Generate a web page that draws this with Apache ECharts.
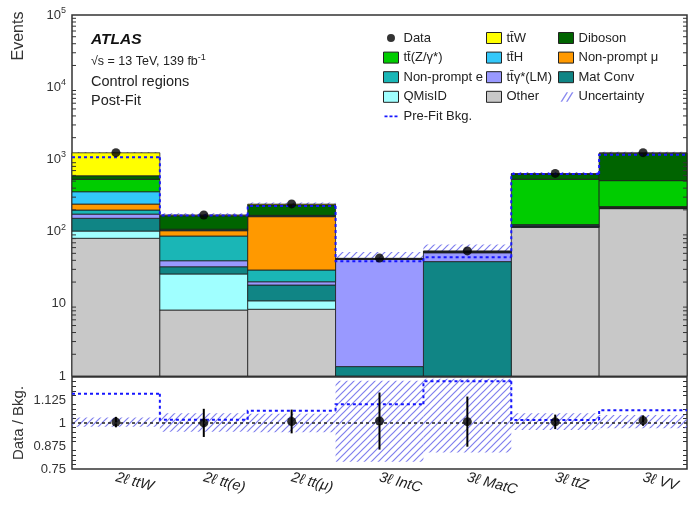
<!DOCTYPE html>
<html>
<head>
<meta charset="utf-8">
<script src="https://cdn.jsdelivr.net/npm/echarts@6/dist/echarts.min.js"></script>
<style>
  html, body { margin: 0; padding: 0; background: #fff; }
  #chart { width: 688px; height: 506px; }
</style>
</head>
<body>
<div id="chart"></div>
<script>
const categories = ['2ℓ ttW', '2ℓ tt(e)', '2ℓ tt(μ)', '3ℓ IntC', '3ℓ MatC', '3ℓ ttZ', '3ℓ VV'];

// Post-fit background yields per region (stacked bottom to top in this order)
const other       = [80.8, 8.2, 8.4, 0.3, 0.4, 114.5, 208];
const qMisID      = [21, 17.7, 2.6, 0, 0, 0.5, 1];
const matConv     = [51, 6.7, 7.2, 1.05, 38, 3, 3];
const ttGammaLM   = [22, 6.9, 2.0, 40, 12.5, 1, 2];
const nonPromptE  = [24, 47.4, 9.2, 0.3, 0.5, 1, 3];
const nonPromptMu = [42, 16, 131.6, 0.2, 0.5, 1, 3];
const ttH         = [116, 2, 3, 0.1, 0.2, 4, 2];
const ttZ         = [173, 3, 4, 0.3, 0.5, 405, 286];
const diboson     = [64, 58, 66, 0.2, 0.8, 98, 712];
const ttW         = [640, 4, 6, 0.1, 0.2, 8, 4];

// Observed events, their uncertainty, pre-fit total and relative post-fit uncertainty
const dataCounts = [1240, 170, 242, 43, 54, 640, 1240];
const dataErr    = [35, 13, 15.5, 6.6, 7.3, 25, 35];
const prefitBkg  = [1070, 167, 227, 39, 44, 630, 1160];
const uncDown    = [0.98, 0.953, 0.95, 0.79, 0.84, 0.962, 0.971];
const uncUp      = [1.03, 1.053, 1.05, 1.23, 1.24, 1.053, 1.043];

const TBAR = 't\u0304';
const layers = [
  { name: 'Other', values: other },
  { name: 'QMisID', values: qMisID },
  { name: 'Mat Conv', values: matConv },
  { name: 't' + TBAR + 'γ*(LM)', values: ttGammaLM },
  { name: 'Non-prompt e', values: nonPromptE },
  { name: 'Non-prompt μ', values: nonPromptMu },
  { name: 't' + TBAR + 'H', values: ttH },
  { name: 't' + TBAR + '(Z/γ*)', values: ttZ },
  { name: 'Diboson', values: diboson },
  { name: 't' + TBAR + 'W', values: ttW }
];
const layerColors = {
  'Other': '#c8c8c8',
  'QMisID': '#a0ffff',
  'Mat Conv': '#108585',
  ['t' + TBAR + 'γ*(LM)']: '#9999ff',
  'Non-prompt e': '#1ab6b6',
  'Non-prompt μ': '#ff9900',
  ['t' + TBAR + 'H']: '#33c8fa',
  ['t' + TBAR + '(Z/γ*)']: '#00cc00',
  'Diboson': '#006400',
  ['t' + TBAR + 'W']: '#ffff00'
};

const FONT = "'Liberation Sans', Arial, Helvetica, sans-serif";
const Y_MIN = 1, Y_MAX = 1e5;
const PREFIT_COLOR = '#1616ff';
const FRAME = '#333';

// diagonal hatch used for the systematic uncertainty band
function hatchPattern() {
  const c = document.createElement('canvas');
  c.width = 7; c.height = 7;
  const g = c.getContext('2d');
  g.strokeStyle = 'rgba(105,105,235,0.85)';
  g.lineWidth = 1.2;
  g.beginPath();
  g.moveTo(-1, 8); g.lineTo(8, -1);
  g.moveTo(-1, 1); g.lineTo(1, -1);
  g.moveTo(6, 8); g.lineTo(8, 6);
  g.stroke();
  return { image: c, repeat: 'repeat' };
}
const HATCH = hatchPattern();

// running sums for the stack
const totals = categories.map(() => 0);
const stackSeries = layers.map((layer) => {
  const items = layer.values.map((v, i) => {
    const lo = totals[i];
    totals[i] += v;
    return [i, lo, totals[i]];
  });
  return {
    type: 'custom', name: layer.name, xAxisIndex: 0, yAxisIndex: 0, z: 2,
    itemStyle: { color: layerColors[layer.name] },
    encode: { x: 0, y: 2 },
    renderItem: bandRender(Y_MIN, api => ({ fill: api.visual('color'), stroke: '#1e1e1e', lineWidth: 0.8 })),
    data: items
  };
});

function bandRender(clampMin, styleFn) {
  return function (params, api) {
    const i = api.value(0);
    let lo = api.value(1), hi = api.value(2);
    if (clampMin != null) { lo = Math.max(lo, clampMin); hi = Math.max(hi, clampMin); }
    if (!(hi > lo)) return null;
    const w = api.size([1, 1])[0];
    const a = api.coord([i, lo]);
    const b = api.coord([i, hi]);
    return {
      type: 'rect',
      shape: { x: a[0] - w / 2, y: b[1], width: w, height: a[1] - b[1] },
      style: styleFn(api)
    };
  };
}

function stepRender(params, api) {
  const i = api.value(0), v = api.value(1), prev = api.value(2);
  const w = api.size([1, 1])[0];
  const p = api.coord([i, v]);
  const left = p[0] - w / 2, right = p[0] + w / 2;
  const pts = [];
  if (prev != null && !isNaN(prev)) pts.push([left, api.coord([i, prev])[1]]);
  pts.push([left, p[1]], [right, p[1]]);
  return {
    type: 'polyline',
    shape: { points: pts },
    style: { stroke: PREFIT_COLOR, lineWidth: 2, lineDash: [3, 3], fill: null }
  };
}

function errorRender(params, api) {
  const i = api.value(0);
  const a = api.coord([i, api.value(1)]);
  const b = api.coord([i, api.value(2)]);
  return { type: 'line', shape: { x1: a[0], y1: a[1], x2: b[0], y2: b[1] }, style: { stroke: '#000', lineWidth: 2 } };
}

// minor log ticks (2..9 of each decade) on both vertical edges of the upper frame
const minorLogTicks = [];
for (let e = 0; e < 5; e++) for (let m = 2; m <= 9; m++) minorLogTicks.push(m * Math.pow(10, e));
function minorTickRender(params, api) {
  const cs = params.coordSys;
  const y = api.coord([0, api.value(1)])[1];
  const st = { stroke: FRAME, lineWidth: 1 };
  return {
    type: 'group',
    children: [
      { type: 'line', shape: { x1: cs.x, y1: y, x2: cs.x + 4, y2: y }, style: st },
      { type: 'line', shape: { x1: cs.x + cs.width, y1: y, x2: cs.x + cs.width - 4, y2: y }, style: st }
    ]
  };
}

const mainUnc = totals.map((t, i) => [i, t * uncDown[i], t * uncUp[i]]);
const prefitSteps = prefitBkg.map((v, i) => [i, v, i > 0 ? prefitBkg[i - 1] : null]);
const ratioData = dataCounts.map((d, i) => [i, d / totals[i]]);
const ratioErr = dataCounts.map((d, i) => [i, (d - dataErr[i]) / totals[i], (d + dataErr[i]) / totals[i]]);
const ratioPrefit = dataCounts.map((d, i) => [i, d / prefitBkg[i], i > 0 ? dataCounts[i - 1] / prefitBkg[i - 1] : null]);
const ratioUnc = categories.map((c, i) => [i, uncDown[i], uncUp[i]]);

const tickStyle = { color: FRAME, width: 1 };
const catAxis = (gridIndex, extra) => Object.assign({
  type: 'category', gridIndex, data: categories, boundaryGap: true,
  axisLine: { show: false }, splitLine: { show: false },
  axisTick: { inside: true, length: 7, lineStyle: tickStyle },
  axisLabel: { show: false }
}, extra);

const logLabel = v => v < 100 ? String(Math.round(v)) : '10{sup|' + Math.round(Math.log10(v)) + '}';

// legend icons (corner specks fix the bounding box so the marks keep their size)
const BOX = 'M0,0h0.01v0.01h-0.01z M15,11h0.01v0.01h-0.01z ';
const DATA_ICON = 'path://' + BOX + 'M11.5,5.5 A4,4 0 1,1 3.5,5.5 A4,4 0 1,1 11.5,5.5 Z';
const PREFIT_ICON = 'path://' + BOX + 'M1,4.7h3v1.6h-3z M6,4.7h3v1.6h-3z M11,4.7h3v1.6h-3z';
const UNC_ICON = 'path://' + BOX + 'M2,10.5 L3.6,10.5 L9.6,1 L8,1 Z M7.5,10.5 L9.1,10.5 L15,1 L13.4,1 Z';

const legendBase = {
  orient: 'vertical', top: 31, itemWidth: 15, itemHeight: 11, itemGap: 5.6,
  icon: 'rect', selectedMode: false, padding: 0,
  textStyle: { fontSize: 13, color: '#222', fontFamily: FONT, lineHeight: 14 },
  itemStyle: { borderColor: '#222', borderWidth: 1 }
};

const option = {
  animation: false,
  textStyle: { fontFamily: FONT },
  grid: [
    { left: 72, right: 1, top: 15, bottom: 130, show: true, borderColor: FRAME, borderWidth: 1.5 },
    { left: 72, right: 1, top: 377, bottom: 37, show: true, borderColor: FRAME, borderWidth: 1.5 }
  ],
  xAxis: [
    catAxis(0, {}),
    catAxis(0, { position: 'top' }),
    catAxis(1, {
      axisLabel: {
        show: true, interval: 0, rotate: -15, margin: 8,
        fontSize: 14.5, fontStyle: 'italic', color: '#222', fontFamily: FONT
      }
    })
  ],
  yAxis: [
    {
      type: 'log', gridIndex: 0, min: Y_MIN, max: Y_MAX, logBase: 10,
      axisLine: { show: false }, splitLine: { show: false },
      axisTick: { inside: true, length: 7, lineStyle: tickStyle },
      axisLabel: {
        formatter: logLabel, fontSize: 13, color: '#333', margin: 6,
        rich: { sup: { fontSize: 9, color: '#333', padding: [0, 0, 9, 0] } }
      }
    },
    {
      type: 'log', gridIndex: 0, position: 'right', min: Y_MIN, max: Y_MAX, logBase: 10,
      axisLine: { show: false }, splitLine: { show: false },
      axisTick: { inside: true, length: 7, lineStyle: tickStyle },
      axisLabel: { show: false }
    },
    {
      type: 'value', gridIndex: 1, min: 0.75, max: 1.25, interval: 0.125,
      axisLine: { show: false }, splitLine: { show: false },
      axisTick: { inside: true, length: 7, lineStyle: tickStyle },
      minorTick: { show: true, splitNumber: 5, length: 4, lineStyle: tickStyle },
      axisLabel: { showMaxLabel: false, fontSize: 13, color: '#333', margin: 6 }
    },
    {
      type: 'value', gridIndex: 1, position: 'right', min: 0.75, max: 1.25, interval: 0.125,
      axisLine: { show: false }, splitLine: { show: false },
      axisTick: { inside: true, length: 7, lineStyle: tickStyle },
      minorTick: { show: true, splitNumber: 5, length: 4, lineStyle: tickStyle },
      axisLabel: { show: false }
    }
  ],
  legend: [
    Object.assign({}, legendBase, {
      left: 383,
      data: [
        { name: 'Data', icon: DATA_ICON, itemStyle: { borderWidth: 0 } },
        't' + TBAR + '(Z/γ*)', 'Non-prompt e', 'QMisID',
        { name: 'Pre-Fit Bkg.', icon: PREFIT_ICON, itemStyle: { color: PREFIT_COLOR, borderWidth: 0 } }
      ]
    }),
    Object.assign({}, legendBase, {
      left: 486,
      data: ['t' + TBAR + 'W', 't' + TBAR + 'H', 't' + TBAR + 'γ*(LM)', 'Other']
    }),
    Object.assign({}, legendBase, {
      left: 558,
      data: ['Diboson', 'Non-prompt μ', 'Mat Conv',
        { name: 'Uncertainty', icon: UNC_ICON, itemStyle: { color: '#8a8af0', borderWidth: 0 } }]
    })
  ],
  graphic: [
    { type: 'text', x: 19, y: 36, rotation: Math.PI / 2,
      style: { text: 'Events', fontSize: 16, fontFamily: FONT, fill: '#333', align: 'center', verticalAlign: 'middle' } },
    { type: 'text', x: 19, y: 423, rotation: Math.PI / 2,
      style: { text: 'Data / Bkg.', fontSize: 15, fontFamily: FONT, fill: '#333', align: 'center', verticalAlign: 'middle' } },
    { type: 'text', x: 91, y: 40,
      style: { text: 'ATLAS', fontSize: 15.5, fontWeight: 'bold', fontStyle: 'italic', fontFamily: FONT, fill: '#111', align: 'left', verticalAlign: 'middle' } },
    { type: 'text', x: 91, y: 62,
      style: { text: '√s = 13 TeV, 139 fb{sup|-1}', fontSize: 12.5, fontFamily: FONT, fill: '#222', align: 'left', verticalAlign: 'middle',
        rich: { sup: { fontSize: 9, fontFamily: FONT, fill: '#222', padding: [0, 0, 8, 0] } } } },
    { type: 'text', x: 91, y: 82,
      style: { text: 'Control regions', fontSize: 14.5, fontFamily: FONT, fill: '#222', align: 'left', verticalAlign: 'middle' } },
    { type: 'text', x: 91, y: 101,
      style: { text: 'Post-Fit', fontSize: 14.5, fontFamily: FONT, fill: '#222', align: 'left', verticalAlign: 'middle' } }
  ],
  series: [
    {
      type: 'custom', name: 'Uncertainty', xAxisIndex: 0, yAxisIndex: 0, z: 1,
      itemStyle: { color: HATCH }, encode: { x: 0, y: 2 },
      renderItem: bandRender(Y_MIN, () => ({ fill: HATCH })),
      data: mainUnc
    },
    ...stackSeries,
    {
      type: 'custom', name: 'Pre-Fit Bkg.', xAxisIndex: 0, yAxisIndex: 0, z: 3,
      itemStyle: { color: PREFIT_COLOR }, encode: { x: 0, y: 1 },
      renderItem: stepRender, data: prefitSteps
    },
    {
      type: 'scatter', name: 'Data', xAxisIndex: 0, yAxisIndex: 0, z: 4,
      symbol: 'circle', symbolSize: 9, itemStyle: { color: '#000' },
      data: dataCounts.map((d, i) => [i, d])
    },
    {
      type: 'custom', name: 'logMinorTicks', xAxisIndex: 0, yAxisIndex: 0, z: 5, silent: true,
      encode: { x: 0, y: 1 }, renderItem: minorTickRender,
      data: minorLogTicks.map(v => [0, v])
    },
    {
      type: 'custom', name: 'Uncertainty', xAxisIndex: 2, yAxisIndex: 2, z: 1,
      itemStyle: { color: HATCH }, encode: { x: 0, y: 2 },
      renderItem: bandRender(null, () => ({ fill: HATCH })),
      data: ratioUnc
    },
    {
      type: 'custom', name: 'Pre-Fit Bkg.', xAxisIndex: 2, yAxisIndex: 2, z: 3,
      itemStyle: { color: PREFIT_COLOR }, encode: { x: 0, y: 1 },
      renderItem: stepRender, data: ratioPrefit
    },
    {
      type: 'custom', name: 'Data', xAxisIndex: 2, yAxisIndex: 2, z: 4,
      itemStyle: { color: '#000' }, encode: { x: 0, y: 2 },
      renderItem: errorRender, data: ratioErr
    },
    {
      type: 'scatter', name: 'Data', xAxisIndex: 2, yAxisIndex: 2, z: 4,
      symbol: 'circle', symbolSize: 9, itemStyle: { color: '#000' },
      data: ratioData,
      markLine: {
        silent: true, symbol: 'none', label: { show: false },
        lineStyle: { color: '#222', type: [3, 3], width: 1.5 },
        data: [{ yAxis: 1 }]
      }
    }
  ]
};

const chart = echarts.init(document.getElementById('chart'));
chart.setOption(option);
</script>
</body>
</html>
